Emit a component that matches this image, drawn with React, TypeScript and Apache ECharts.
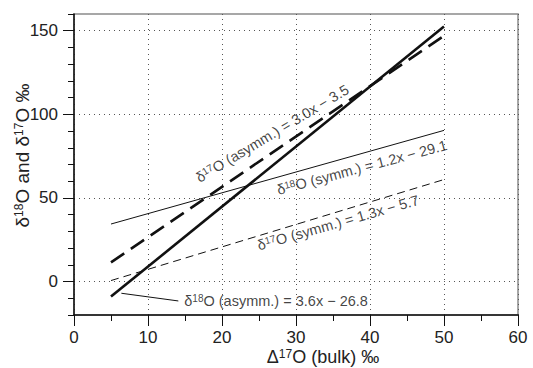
import React, { useEffect, useRef } from "react";
import * as echarts from "echarts";

// ---- data ----
const xTickLabels = [0, 10, 20, 30, 40, 50, 60];
const yTickLabels = [0, 50, 100, 150];
const lineX = [5, 50];
const d18Asymm = [-9, 152.5];
const d17Asymm = [11.5, 147];
const d18Symm = [34.4, 90.4];
const d17Symm = [0.6, 61];
const leaderX = [6.4, 14.1];
const leaderY = [-7, -11.6];
const labelTexts = [
  "δ{sup|17}O (asymm.) = 3.0x − 3.5",
  "δ{sup|18}O (symm.) = 1.2x − 29.1",
  "δ{sup|17}O (symm.) = 1.3x − 5.7",
  "δ{sup|18}O (asymm.) = 3.6x − 26.8",
];
// label anchors (data coords) and rotations
const labelAnchorX = [26.8, 38.9, 35.7, 14.5];
const labelAnchorY = [88.5, 68.2, 35.2, -11.4];
const labelRotate = [31, 15, 16, 0];

const FONT = "'Liberation Sans', Arial, Helvetica, sans-serif";
const INK = "#111";

export default function App() {
  const ref = useRef<HTMLDivElement>(null);
  useEffect(() => {
    document.body.style.margin = "0";
    const chart = echarts.init(ref.current!, null, { renderer: "svg" });
    const pair = (ys: number[]) => lineX.map((x, i) => [x, ys[i]]);
    const dotted = { type: [1, 4] as any, color: "#555", width: 1 };
    const supRich = { sup: { fontSize: 10, verticalAlign: "top" as const, fontFamily: FONT, color: INK } };

    chart.setOption({
      animation: false,
      grid: {
        left: 74,
        right: 15,
        top: 14,
        bottom: 53,
        containLabel: false,
        outerBoundsMode: "none",
        show: true,
        borderColor: "#8a8a8a",
        borderWidth: 1.5,
        backgroundColor: "transparent",
      },
      xAxis: {
        type: "value",
        min: xTickLabels[0],
        max: xTickLabels[xTickLabels.length - 1],
        interval: 10,
        name: "Δ{sup|17}O (bulk) ‰",
        nameLocation: "middle",
        nameGap: 32.5,
        nameMoveOverlap: false,
        nameTextStyle: {
          fontFamily: FONT,
          fontSize: 18,
          color: "#222",
          padding: [0, 0, 0, 54],
          rich: { sup: { fontSize: 12, verticalAlign: "top", fontFamily: FONT, color: "#222" } },
        },
        axisLine: { onZero: false, lineStyle: { color: INK, width: 1.5 } },
        axisTick: { length: 11, lineStyle: { color: INK, width: 1 } },
        minorTick: { show: true, splitNumber: 2, length: 6, lineStyle: { color: INK, width: 1 } },
        axisLabel: { fontFamily: FONT, fontSize: 17, color: "#222", margin: 14 },
        splitLine: { show: true, lineStyle: dotted },
      },
      yAxis: [
        {
          type: "value",
          min: -20,
          max: 160,
          name: "δ{sup|18}O and δ{sup|17}O ‰",
          nameLocation: "middle",
          nameGap: 42,
          nameMoveOverlap: false,
          nameTextStyle: {
            fontFamily: FONT,
            fontSize: 19,
            color: "#222",
            padding: [0, 0, 0, 18],
            rich: { sup: { fontSize: 12, verticalAlign: "top", fontFamily: FONT, color: "#222" } },
          },
          axisLine: { show: true, onZero: false, lineStyle: { color: INK, width: 1.5 } },
          axisTick: { show: true, customValues: yTickLabels, length: 11, lineStyle: { color: INK, width: 1 } },
          axisLabel: { customValues: yTickLabels, fontFamily: FONT, fontSize: 17, color: "#222", margin: 16 },
          splitLine: { show: true, lineStyle: dotted },
        },
        {
          type: "value",
          min: -20,
          max: 160,
          interval: 10,
          position: "left",
          axisLine: { show: false, onZero: false },
          axisTick: { show: true, length: 6, lineStyle: { color: INK, width: 1 } },
          axisLabel: { show: false },
          splitLine: { show: false },
        },
      ],
      series: [
        {
          type: "line",
          data: pair(d18Symm),
          symbol: "none",
          lineStyle: { color: INK, width: 1 },
          z: 3,
        },
        {
          type: "line",
          data: pair(d17Symm),
          symbol: "none",
          lineStyle: { color: INK, width: 1, type: [8, 5] },
          z: 3,
        },
        {
          type: "line",
          data: pair(d17Asymm),
          symbol: "none",
          lineStyle: { color: INK, width: 2.6, type: [16, 8] },
          z: 4,
        },
        {
          type: "line",
          data: pair(d18Asymm),
          symbol: "none",
          lineStyle: { color: INK, width: 2.6 },
          z: 4,
        },
        {
          type: "line",
          data: leaderX.map((x, i) => [x, leaderY[i]]),
          symbol: "none",
          lineStyle: { color: INK, width: 1 },
          z: 3,
        },
        {
          type: "scatter",
          symbolSize: 0,
          z: 5,
          data: labelTexts.map((t, i) => ({
            value: [labelAnchorX[i], labelAnchorY[i]],
            label: {
              show: true,
              rotate: labelRotate[i],
              position: i === 3 ? "right" : "inside",
              distance: 3,
              align: i === 3 ? "left" : "center",
              verticalAlign: "middle",
              formatter: t,
            },
          })),
          label: {
            show: true,
            fontFamily: FONT,
            fontSize: 14.5,
            color: INK,
            rich: supRich,
          },
        },
      ],
    });
    return () => chart.dispose();
  }, []);
  return <div ref={ref} style={{ width: 533, height: 368 }} />;
}
